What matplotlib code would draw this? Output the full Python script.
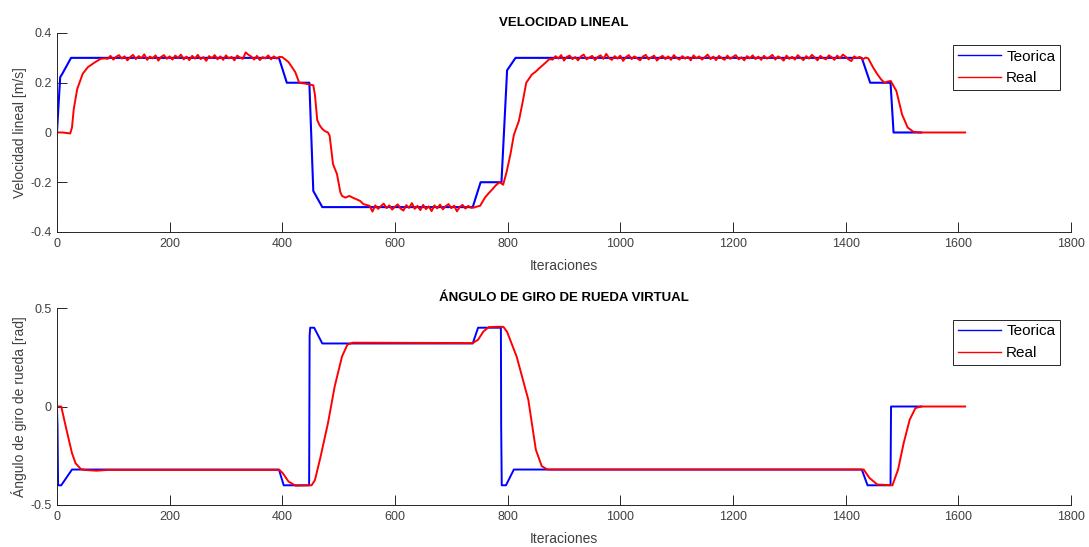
import matplotlib.pyplot as plt
import numpy as np

plt.rcParams['font.family'] = ['Liberation Sans', 'DejaVu Sans']
plt.rcParams['axes.unicode_minus'] = False

# ---- velocidad lineal ----
vel_teo_x = [0, 5.7, 9.5, 25, 394, 408, 448, 455, 471, 738, 752, 789, 799, 814,
             1428.6, 1443.5, 1479.6, 1485, 1534]
vel_teo_y = [0, 0.222, 0.236, 0.3, 0.3, 0.2, 0.2, -0.235, -0.3, -0.3, -0.2, -0.2,
             0.25, 0.3, 0.3, 0.2, 0.2, 0, 0]

# real: ramps + noisy plateaus (sampled every 5 iterations)
ramp_a_x = [0, 10, 20, 23.5, 26.7, 29.8, 36, 45.7, 55, 68, 77.5, 85]
ramp_a_y = [0, 0.0, -0.003, -0.004, 0.02, 0.094, 0.175, 0.236, 0.263, 0.283, 0.296, 0.298]
plat_1_y = [0.296, 0.308, 0.293, 0.304, 0.311, 0.297, 0.306, 0.290, 0.303, 0.312,
            0.295, 0.307, 0.299, 0.314, 0.292, 0.305, 0.298, 0.310, 0.289, 0.304,
            0.311, 0.296, 0.306, 0.293, 0.309, 0.300, 0.313, 0.294, 0.305, 0.291,
            0.308, 0.297, 0.312, 0.295, 0.303, 0.288, 0.307, 0.299, 0.311, 0.294,
            0.306, 0.292, 0.310, 0.298, 0.304, 0.290, 0.309, 0.301, 0.296, 0.322,
            0.312, 0.305, 0.293, 0.308, 0.291, 0.303, 0.298, 0.310, 0.294, 0.306,
            0.297, 0.304]
ramp_b_x = [400, 411, 423, 430, 442, 450, 455, 458, 462, 466, 471, 476, 481, 484, 490,
            497, 503, 506, 512, 519, 525, 531, 538, 544, 550, 555]
ramp_b_y = [0.303, 0.283, 0.243, 0.2, 0.196, 0.192, 0.19, 0.15, 0.05, 0.03, 0.014, 0.005,
            0.0, -0.013, -0.127, -0.167, -0.24, -0.255, -0.262, -0.255, -0.262, -0.268,
            -0.275, -0.288, -0.292, -0.295]
plat_2_y = [-0.318, -0.293, -0.307, -0.296, -0.286, -0.304, -0.293, -0.310, -0.298, -0.289,
            -0.306, -0.314, -0.292, -0.303, -0.284, -0.307, -0.295, -0.312, -0.291, -0.308,
            -0.297, -0.316, -0.293, -0.305, -0.290, -0.309, -0.296, -0.288, -0.304, -0.294,
            -0.317, -0.299, -0.291, -0.306, -0.295, -0.303]
ramp_c_x = [740, 745, 751, 760, 766, 773, 780, 786, 792, 798, 805, 811, 820, 827, 833,
            843, 850, 857, 867, 874]
ramp_c_y = [-0.302, -0.298, -0.295, -0.261, -0.245, -0.228, -0.21, -0.2, -0.21, -0.16,
            -0.087, -0.01, 0.047, 0.127, 0.2, 0.233, 0.245, 0.26, 0.28, 0.295]
plat_3_y = [0.293, 0.307, 0.297, 0.311, 0.289, 0.304, 0.309, 0.295, 0.303, 0.290,
            0.306, 0.313, 0.294, 0.301, 0.308, 0.291, 0.304, 0.310, 0.296, 0.316,
            0.299, 0.292, 0.307, 0.297, 0.309, 0.288, 0.303, 0.311, 0.295, 0.306,
            0.298, 0.290, 0.305, 0.312, 0.294, 0.302, 0.309, 0.289, 0.301, 0.308,
            0.295, 0.306, 0.292, 0.311, 0.300, 0.293, 0.307, 0.297, 0.304, 0.290,
            0.310, 0.298, 0.306, 0.293, 0.303, 0.313, 0.295, 0.305, 0.291, 0.308,
            0.299, 0.292, 0.309, 0.296, 0.304, 0.311, 0.294, 0.302, 0.290, 0.307,
            0.298, 0.310, 0.295, 0.305, 0.292, 0.308, 0.297, 0.303, 0.312, 0.293,
            0.306, 0.299, 0.289, 0.309, 0.296, 0.304, 0.293, 0.311, 0.300, 0.291,
            0.307, 0.297, 0.312, 0.302, 0.290, 0.308, 0.299, 0.294, 0.310, 0.303,
            0.292, 0.309, 0.298, 0.313, 0.305, 0.294, 0.287, 0.306, 0.299, 0.304,
            0.293, 0.301]
ramp_d_x = [1440, 1449, 1456, 1463, 1469, 1475, 1480, 1490, 1500, 1510, 1520, 1531, 1612]
ramp_d_y = [0.298, 0.26, 0.235, 0.213, 0.2, 0.205, 0.207, 0.167, 0.073, 0.02, 0.003, 0.0, 0.0]

vel_real_x = np.concatenate([ramp_a_x, np.arange(90, 396, 5), ramp_b_x, np.arange(560, 736, 5),
                             ramp_c_x, np.arange(880, 1436, 5), ramp_d_x])
vel_real_y = np.concatenate([ramp_a_y, plat_1_y, ramp_b_y, plat_2_y, ramp_c_y, plat_3_y, ramp_d_y])

# ---- angulo de giro ----
ang_teo_x = [0, 1, 2, 7.6, 26.7, 394, 402.5, 447.6, 448.5, 449.5, 456.5, 471, 738, 747.5,
             788, 788.5, 789.5, 797, 811, 1428.6, 1438.8, 1479.6, 1480.5, 1534]
ang_teo_y = [0, -0.1, -0.4, -0.4, -0.32, -0.32, -0.4, -0.4, 0.36, 0.4, 0.4, 0.32, 0.32, 0.4,
             0.4, -0.1, -0.4, -0.4, -0.32, -0.32, -0.4, -0.4, 0, 0]
ang_real_x = [0, 7.6, 17, 26.7, 33, 42.5, 49, 70, 80, 90, 395, 401, 411, 423.5, 452, 458, 468,
              481, 493, 506, 515.5, 525, 738, 747.5, 757, 766.5, 785.5, 792.5, 799, 816,
              836.7, 850, 860.5, 870.7, 1432, 1442, 1456, 1483, 1493, 1503, 1513.6, 1523.8,
              1534, 1612]
ang_real_y = [0, 0, -0.119, -0.237, -0.288, -0.318, -0.322, -0.326, -0.324, -0.322, -0.322,
              -0.339, -0.381, -0.402, -0.4, -0.373, -0.254, -0.085, 0.102, 0.254, 0.314,
              0.324, 0.322, 0.339, 0.381, 0.403, 0.405, 0.404, 0.379, 0.253, 0.034, -0.219,
              -0.303, -0.32, -0.32, -0.362, -0.396, -0.4, -0.32, -0.185, -0.067, -0.008, 0, 0]

x_ticks = [0, 200, 400, 600, 800, 1000, 1200, 1400, 1600, 1800]

fig = plt.figure(figsize=(10.89, 5.47), dpi=100)
ax1 = fig.add_axes([0.0523, 0.5759, 0.9312, 0.3638])
ax2 = fig.add_axes([0.0523, 0.0768, 0.9312, 0.3601])


def style(ax, yticks, ylabels):
    ax.set_xlim(0, 1800)
    ax.set_xticks(x_ticks)
    ax.set_xticklabels([str(t) for t in x_ticks])
    ax.set_yticks(yticks)
    ax.set_yticklabels(ylabels)
    ax.set_ylim(yticks[0], yticks[-1])
    for s in ['top', 'right']:
        ax.spines[s].set_visible(False)
    for s in ['left', 'bottom']:
        ax.spines[s].set_color('#262626')
        ax.spines[s].set_linewidth(0.7)
    ax.tick_params(direction='in', length=7, width=0.7, color='#262626',
                   labelcolor='#404040', labelsize=9, pad=4)
    ax.set_xlabel('Iteraciones', fontsize=10, color='#404040', labelpad=6.5)


ax1.plot(vel_teo_x, vel_teo_y, color='#0000ff', lw=1.5, label='Teorica')
ax1.plot(vel_real_x, vel_real_y, color='#ff0000', lw=1.4, label='Real')
style(ax1, [-0.4, -0.2, 0, 0.2, 0.4], ['-0.4', '-0.2', '0', '0.2', '0.4'])
ax1.set_ylabel('Velocidad lineal [m/s]', fontsize=10, color='#404040', labelpad=2)
ax1.set_title('VELOCIDAD LINEAL', fontsize=9.5, fontweight='bold', pad=5)

ax2.plot(ang_teo_x, ang_teo_y, color='#0000ff', lw=1.4, label='Teorica')
ax2.plot(ang_real_x, ang_real_y, color='#ff0000', lw=1.4, label='Real')
style(ax2, [-0.5, 0, 0.5], ['-0.5', '0', '0.5'])
ax2.set_ylabel('Ángulo de giro de rueda [rad]', fontsize=10, color='#404040', labelpad=2)
ax2.set_title('ÁNGULO DE GIRO DE RUEDA VIRTUAL', fontsize=9.5, fontweight='bold', pad=5)

for ax in (ax1, ax2):
    leg = ax.legend(loc='upper right', bbox_to_anchor=(0.989, 0.94), borderaxespad=0,
                    fontsize=11, fancybox=False, framealpha=1, edgecolor='#262626',
                    handlelength=2.8, handletextpad=0.35, borderpad=0.3,
                    labelspacing=0.5)
    leg.get_frame().set_linewidth(0.7)
    for line in leg.get_lines():
        line.set_linewidth(1.0)

fig.savefig('out.png', dpi=100)
